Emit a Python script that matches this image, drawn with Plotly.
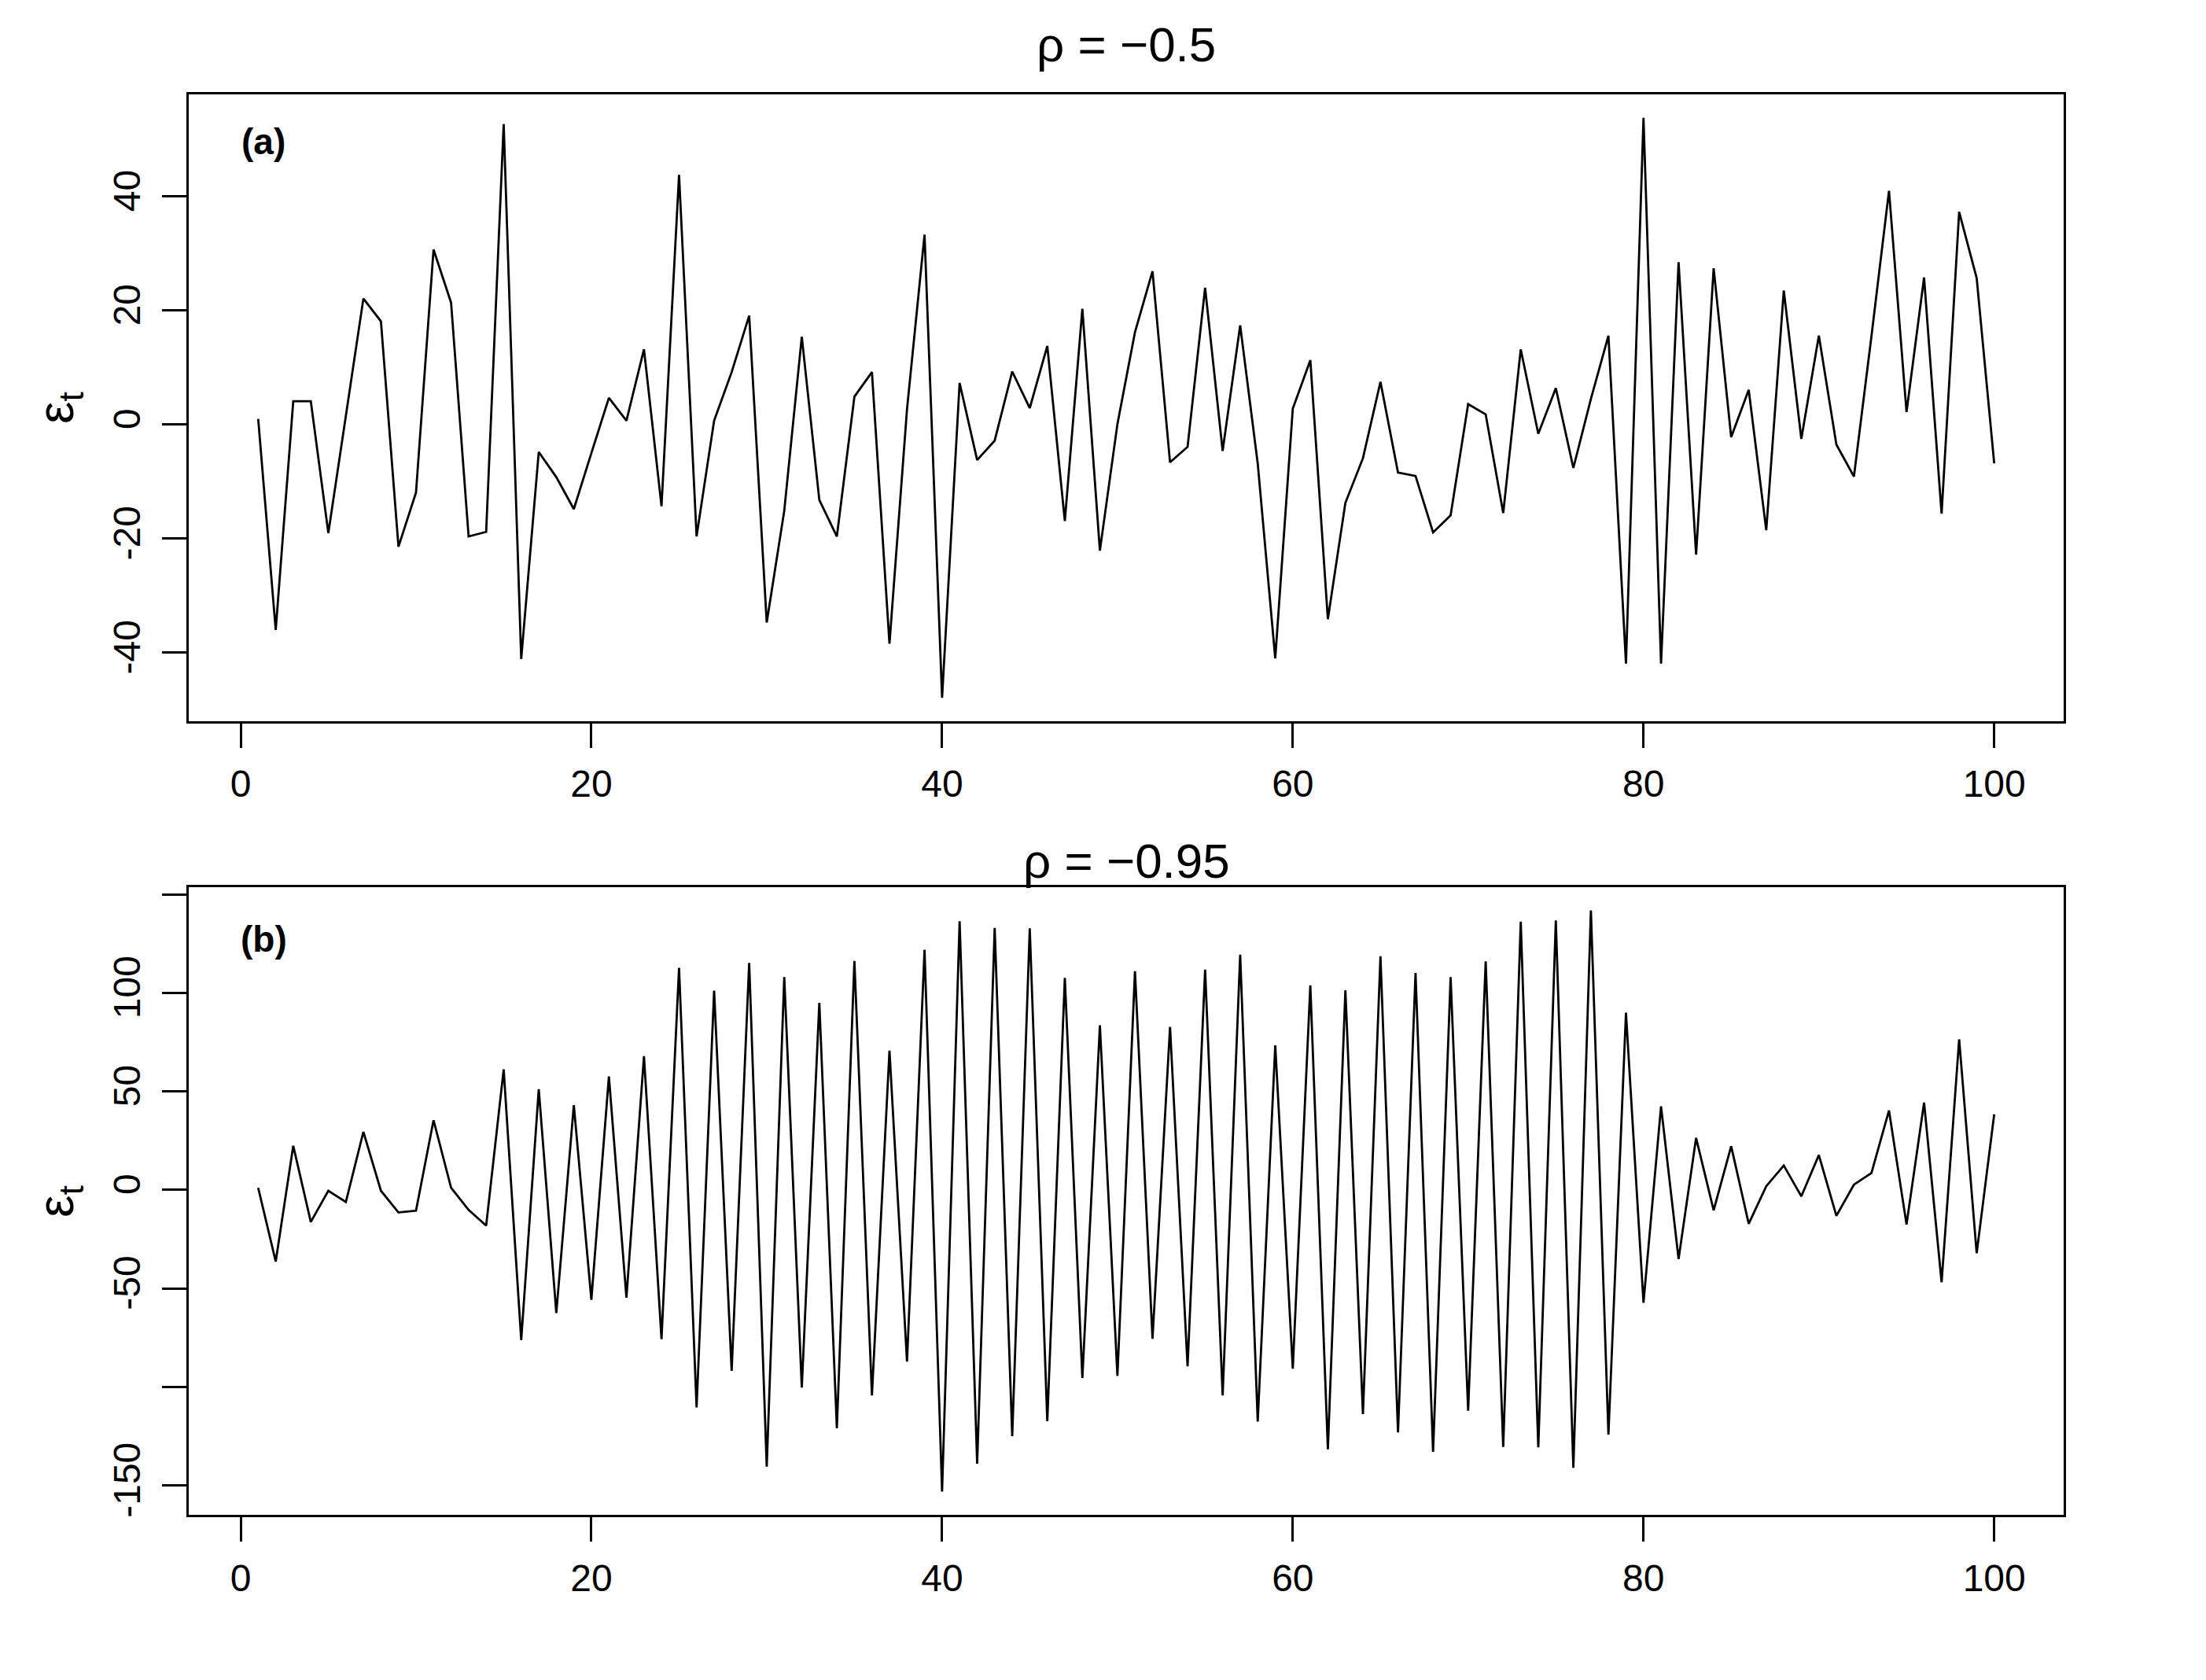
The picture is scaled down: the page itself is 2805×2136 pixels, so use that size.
import plotly.graph_objects as go

t = list(range(1, 101))

eps_rho_05 = [1.0, -36.0, 4.1, 4.1, -19.0, 1.5, 22.1, 18.1, -21.4, -11.9,
              30.7, 21.4, -19.6, -18.8, 52.7, -41.1, -4.8, -9.2, -14.8, -5.0,
              4.7, 0.7, 13.2, -14.3, 43.8, -19.6, 0.7, 9.2, 19.1, -34.7,
              -15.1, 15.4, -13.2, -19.6, 4.9, 9.2, -38.4, 2.7, 33.3, -47.9,
              7.3, -6.2, -2.8, 9.3, 2.9, 13.8, -16.9, 20.3, -22.1, 0.1,
              16.2, 26.9, -6.6, -3.9, 24.0, -4.6, 17.4, -6.8, -41.0, 2.8,
              11.3, -34.1, -13.7, -5.9, 7.5, -8.4, -9.0, -18.9, -15.9, 3.6,
              1.8, -15.5, 13.2, -1.6, 6.4, -7.6, 4.5, 15.6, -41.9, 53.8,
              -41.9, 28.5, -22.8, 27.4, -2.2, 6.1, -18.5, 23.5, -2.5, 15.6,
              -3.5, -9.1, 15.5, 41.0, 2.2, 25.8, -15.6, 37.3, 25.7, -6.8]

eps_rho_095 = [1.1, -36.3, 22.4, -16.2, -0.4, -6.1, 29.5, -0.4, -11.4, -10.5,
               35.4, 1.1, -10.1, -18.1, 61.2, -76.2, 51.1, -62.4, 43.0, -55.7,
               57.6, -54.6, 67.9, -75.7, 112.7, -110.3, 101.1, -91.8, 115.2, -140.3,
               108.0, -100.2, 94.9, -120.9, 116.2, -104.2, 70.7, -87.1, 121.9, -153.0,
               136.3, -138.8, 132.9, -124.9, 132.7, -117.3, 107.6, -95.4, 83.5, -94.3,
               111.0, -75.5, 82.7, -89.5, 111.8, -104.2, 119.4, -117.5, 73.4, -90.7,
               103.8, -131.6, 101.3, -113.7, 118.6, -123.0, 110.1, -132.9, 108.0, -112.0,
               116.0, -130.4, 136.1, -130.6, 136.7, -140.9, 141.8, -124.1, 89.9, -57.2,
               42.4, -35.0, 26.4, -10.3, 22.2, -17.1, 1.9, 12.4, -3.2, 17.7,
               -13.1, 2.7, 8.6, 40.3, -17.5, 44.3, -46.8, 76.4, -32.1, 38.4]

x_ticks = [0, 20, 40, 60, 80, 100]
y_ticks_a = [-40, -20, 0, 20, 40]
y_labels_a = ["-40", "-20", "0", "20", "40"]
y_ticks_b = [-150, -50, 0, 50, 100]
y_labels_b = ["-150", "-50", "0", "50", "100"]
y_unlabeled_b = [-100, 150]

titles = ["\u03c1 = \u22120.5", "\u03c1 = \u22120.95"]
panel_tags = ["<b>(a)</b>", "<b>(b)</b>"]

FONT = "Liberation Sans, Arial, Helvetica, sans-serif"
W, H = 2805, 2136
OFF = 8  # page body offset
ML, MT = 240 - OFF, 120 - OFF
MR = W - (2624 - OFF)
MB = H - (1926 - OFF)
PH = H - MT - MB
PW = W - ML - MR

def py(y_px):
    return (H - MB - (y_px - OFF)) / PH

def px(x_px):
    return (x_px - OFF - ML) / PW

fig = go.Figure()
fig.add_trace(go.Scatter(x=t, y=eps_rho_05, mode="lines",
                         line=dict(color="black", width=2.8),
                         xaxis="x", yaxis="y", showlegend=False))
fig.add_trace(go.Scatter(x=t, y=eps_rho_095, mode="lines",
                         line=dict(color="black", width=2.8),
                         xaxis="x2", yaxis="y2", showlegend=False))

axis_common = dict(showline=True, mirror=True, linecolor="black", linewidth=2.5,
                   ticks="outside", ticklen=31, tickwidth=2.5, tickcolor="black",
                   showgrid=False, zeroline=False,
                   tickfont=dict(family=FONT, size=48, color="black"))

top_dom = [py(917), 1.0]
bot_dom = [0.0, py(1128)]

fig.update_layout(
    width=W, height=H,
    margin=dict(l=ML, r=MR, t=MT, b=MB),
    paper_bgcolor="white", plot_bgcolor="white",
    font=dict(family=FONT, color="black"),
    xaxis=dict(domain=[0, 1], anchor="y", range=[-2.96, 103.96],
               tickvals=x_ticks, ticklabelstandoff=5, **axis_common),
    yaxis=dict(domain=top_dom, anchor="x", range=[-52.0, 57.9],
               tickvals=y_ticks_a, ticktext=y_labels_a, tickangle=-90,
               ticklabelstandoff=9, **axis_common),
    xaxis2=dict(domain=[0, 1], anchor="y2", range=[-2.96, 103.96],
                tickvals=x_ticks, ticklabelstandoff=6, **axis_common),
    yaxis2=dict(domain=bot_dom, anchor="x2", range=[-164.8, 153.6],
                tickvals=y_ticks_b, ticktext=y_labels_b, tickangle=-90,
                ticklabelstandoff=9,
                minor=dict(tickmode="array", tickvals=y_unlabeled_b, ticks="outside",
                           ticklen=31, tickwidth=2.5, tickcolor="black", showgrid=False),
                **axis_common),
)

ann = []
ann.append(dict(text=titles[0], x=0.5, y=py(56), xref="paper", yref="paper",
                xanchor="center", yanchor="middle", showarrow=False,
                font=dict(family=FONT, size=62, color="black")))
ann.append(dict(text=titles[1], x=0.5, y=py(1094), xref="paper", yref="paper",
                xanchor="center", yanchor="middle", showarrow=False,
                font=dict(family=FONT, size=62, color="black")))
ann.append(dict(text=panel_tags[0], x=px(335), y=py(180), xref="paper", yref="paper",
                xanchor="center", yanchor="middle", showarrow=False,
                font=dict(family=FONT, size=46, color="black")))
ann.append(dict(text=panel_tags[1], x=px(335), y=py(1194), xref="paper", yref="paper",
                xanchor="center", yanchor="middle", showarrow=False,
                font=dict(family=FONT, size=46, color="black")))
for yc in [518, 1527]:
    ann.append(dict(text="\u03b5<sub>t</sub>", x=px(75), y=py(yc), xref="paper", yref="paper",
                    xanchor="center", yanchor="middle", showarrow=False, textangle=-90,
                    font=dict(family=FONT, size=64, color="black")))
fig.update_layout(annotations=ann)

fig.write_html("out.html")
